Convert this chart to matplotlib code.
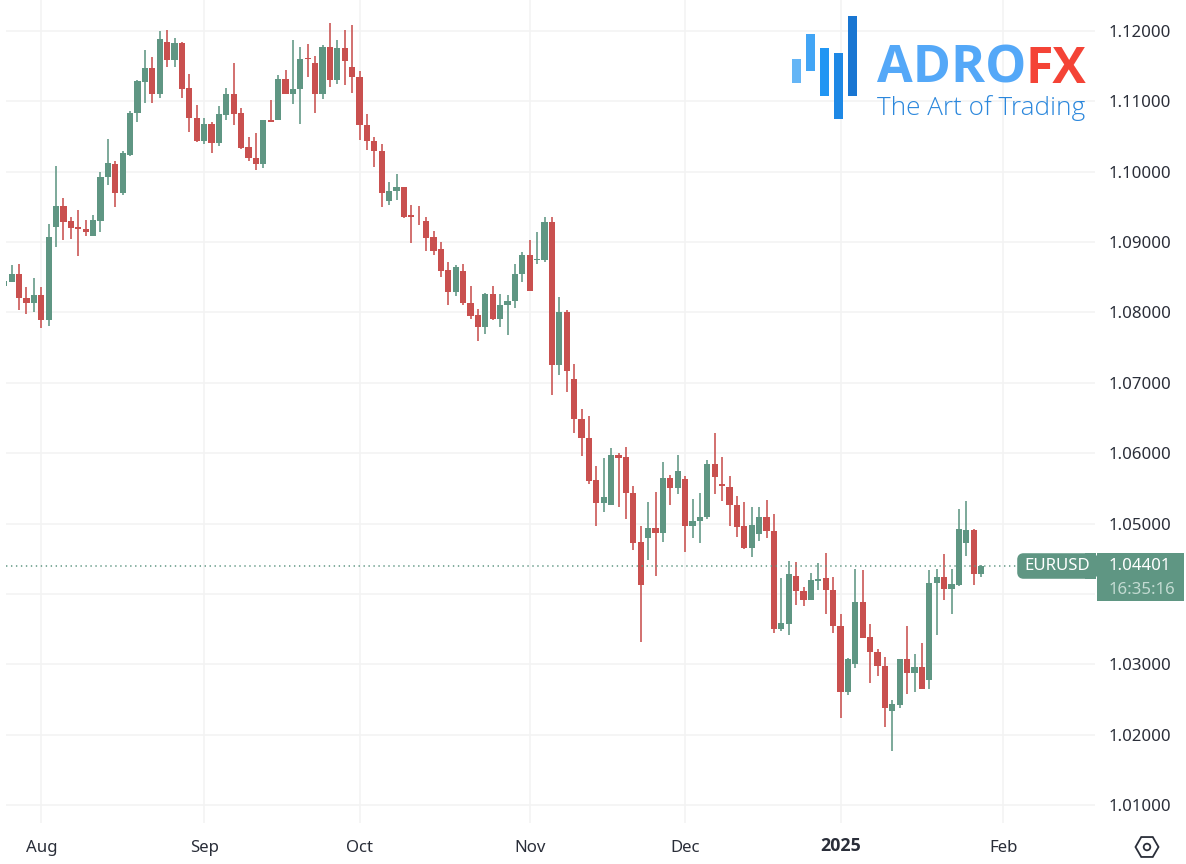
import matplotlib
matplotlib.use('Agg')
import matplotlib.pyplot as plt
from matplotlib.patches import Rectangle, FancyBboxPatch, RegularPolygon, Circle
from matplotlib.transforms import ScaledTranslation

opens = [1.0838, 1.0844, 1.0855, 1.0820, 1.0814, 1.0825, 1.0790, 1.0921, 1.0951, 1.0930,
         1.0921, 1.0919, 1.0909, 1.0930, 1.0993, 1.1011, 1.0970, 1.1024, 1.1083, 1.1128,
         1.1148, 1.1110, 1.1185, 1.1159, 1.1183, 1.1119, 1.1077, 1.1044, 1.1068, 1.1041,
         1.1081, 1.1110, 1.1083, 1.1035, 1.1020, 1.1011, 1.1073, 1.1074, 1.1132, 1.1111,
         1.1117, 1.1162, 1.1155, 1.1110, 1.1178, 1.1131, 1.1176, 1.1149, 1.1134, 1.1067,
         1.1044, 1.1029, 1.0959, 1.0972, 1.0978, 1.0938, 1.0936, 1.0930, 1.0907, 1.0890,
         1.0860, 1.0829, 1.0859, 1.0814, 1.0796, 1.0779, 1.0826, 1.0791, 1.0810, 1.0817,
         1.0854, 1.0882, 1.0874, 1.0874, 1.0928, 1.0726, 1.0801, 1.0705, 1.0649, 1.0622,
         1.0562, 1.0529, 1.0526, 1.0598, 1.0594, 1.0544, 1.0474, 1.0479, 1.0494, 1.0487,
         1.0565, 1.0551, 1.0564, 1.0496, 1.0503, 1.0509, 1.0585, 1.0556, 1.0552, 1.0526,
         1.0496, 1.0465, 1.0485, 1.0509, 1.0490, 1.0350, 1.0357, 1.0426, 1.0404, 1.0391,
         1.0419, 1.0423, 1.0405, 1.0355, 1.0260, 1.0301, 1.0389, 1.0339, 1.0317, 1.0298,
         1.0234, 1.0242, 1.0307, 1.0288, 1.0296, 1.0278, 1.0415, 1.0424, 1.0407, 1.0413,
         1.0473, 1.0491, 1.0429]
closes = [1.0845, 1.0855, 1.0820, 1.0814, 1.0825, 1.0790, 1.0907, 1.0951, 1.0929, 1.0920,
          1.0918, 1.0914, 1.0931, 1.0993, 1.1012, 1.0970, 1.1026, 1.1083, 1.1129, 1.1148,
          1.1110, 1.1189, 1.1159, 1.1183, 1.1118, 1.1077, 1.1044, 1.1068, 1.1041, 1.1082,
          1.1110, 1.1082, 1.1034, 1.1019, 1.1011, 1.1074, 1.1071, 1.1132, 1.1111, 1.1118,
          1.1160, 1.1160, 1.1110, 1.1178, 1.1131, 1.1176, 1.1157, 1.1134, 1.1067, 1.1043,
          1.1029, 1.0970, 1.0972, 1.0978, 1.0936, 1.0935, 1.0935, 1.0906, 1.0888, 1.0859,
          1.0829, 1.0864, 1.0813, 1.0795, 1.0779, 1.0826, 1.0791, 1.0811, 1.0817, 1.0854,
          1.0882, 1.0830, 1.0876, 1.0928, 1.0726, 1.0801, 1.0717, 1.0648, 1.0622, 1.0561,
          1.0529, 1.0538, 1.0598, 1.0593, 1.0543, 1.0473, 1.0413, 1.0494, 1.0487, 1.0565,
          1.0551, 1.0574, 1.0496, 1.0504, 1.0510, 1.0585, 1.0566, 1.0554, 1.0527, 1.0495,
          1.0465, 1.0498, 1.0509, 1.0489, 1.0350, 1.0358, 1.0429, 1.0404, 1.0391, 1.0420,
          1.0421, 1.0405, 1.0355, 1.0260, 1.0308, 1.0389, 1.0338, 1.0317, 1.0298, 1.0238,
          1.0244, 1.0307, 1.0288, 1.0296, 1.0265, 1.0416, 1.0424, 1.0407, 1.0414, 1.0492,
          1.0491, 1.0429, 1.04401]
highs = [1.0845, 1.0867, 1.0869, 1.0836, 1.0849, 1.0836, 1.0926, 1.1008, 1.0962, 1.0936,
         1.0945, 1.0931, 1.0939, 1.1000, 1.1046, 1.1015, 1.1029, 1.1086, 1.1130, 1.1173,
         1.1163, 1.1200, 1.1201, 1.1190, 1.1184, 1.1139, 1.1095, 1.1077, 1.1071, 1.1094,
         1.1119, 1.1155, 1.1091, 1.1049, 1.1055, 1.1074, 1.1102, 1.1138, 1.1145, 1.1187,
         1.1178, 1.1181, 1.1165, 1.1180, 1.1212, 1.1187, 1.1202, 1.1208, 1.1143, 1.1082,
         1.1049, 1.1039, 1.0986, 1.0997, 1.0979, 1.0953, 1.0952, 1.0935, 1.0916, 1.0900,
         1.0872, 1.0868, 1.0869, 1.0837, 1.0805, 1.0828, 1.0838, 1.0826, 1.0825, 1.0869,
         1.0886, 1.0903, 1.0914, 1.0935, 1.0935, 1.0822, 1.0803, 1.0727, 1.0663, 1.0653,
         1.0582, 1.0593, 1.0608, 1.0600, 1.0609, 1.0554, 1.0497, 1.0531, 1.0545, 1.0588,
         1.0569, 1.0598, 1.0568, 1.0535, 1.0543, 1.0590, 1.0629, 1.0594, 1.0568, 1.0539,
         1.0530, 1.0524, 1.0524, 1.0534, 1.0513, 1.0422, 1.0447, 1.0445, 1.0410, 1.0430,
         1.0444, 1.0458, 1.0424, 1.0371, 1.0309, 1.0436, 1.0434, 1.0357, 1.0322, 1.0311,
         1.0249, 1.0308, 1.0355, 1.0315, 1.0330, 1.0434, 1.0435, 1.0457, 1.0436, 1.0520,
         1.0532, 1.0492, 1.0441]
lows = [1.0838, 1.0843, 1.0803, 1.07975, 1.0801, 1.0778, 1.0781, 1.0893, 1.0903, 1.0904,
        1.0880, 1.0909, 1.0909, 1.0914, 1.0981, 1.0950, 1.0967, 1.1023, 1.1071, 1.1098,
        1.1097, 1.1105, 1.1149, 1.1149, 1.1105, 1.1056, 1.1042, 1.1040, 1.1026, 1.1036,
        1.1074, 1.1066, 1.1033, 1.1015, 1.1002, 1.1006, 1.1070, 1.1074, 1.1110, 1.1096,
        1.1068, 1.1135, 1.1083, 1.1103, 1.1121, 1.1125, 1.1124, 1.1112, 1.1045, 1.1031,
        1.1007, 1.0950, 1.0953, 1.0960, 1.0934, 1.0899, 1.0925, 1.0887, 1.0881, 1.0851,
        1.0810, 1.0824, 1.0810, 1.0791, 1.0759, 1.0769, 1.0790, 1.0780, 1.0768, 1.0806,
        1.0843, 1.0830, 1.0869, 1.0872, 1.0682, 1.0711, 1.0687, 1.0628, 1.0596, 1.0556,
        1.0496, 1.0517, 1.0526, 1.0523, 1.0507, 1.0462, 1.0331, 1.0448, 1.0425, 1.0474,
        1.0527, 1.0542, 1.0460, 1.0480, 1.0472, 1.0506, 1.0542, 1.0532, 1.0497, 1.0481,
        1.0464, 1.0453, 1.0475, 1.0479, 1.0344, 1.0347, 1.0342, 1.0384, 1.0383, 1.0391,
        1.0405, 1.0372, 1.0344, 1.0223, 1.0257, 1.0294, 1.0338, 1.0273, 1.0284, 1.0211,
        1.0177, 1.0238, 1.0258, 1.0260, 1.0265, 1.0265, 1.0341, 1.0391, 1.0372, 1.0411,
        1.0454, 1.0413, 1.0424]

price_ticks = [1.01, 1.02, 1.03, 1.04, 1.05, 1.06, 1.07, 1.08, 1.09, 1.10, 1.11, 1.12]
# 1.04000 sits behind the last price label, so it shows no text
price_labels = ['1.01000', '1.02000', '1.03000', '', '1.05000', '1.06000', '1.07000',
                '1.08000', '1.09000', '1.10000', '1.11000', '1.12000']
month_pos = [5, 27, 48, 71, 92, 113, 135]
month_labels = ['Aug', 'Sep', 'Oct', 'Nov', 'Dec', '2025', 'Feb']
last_price = 1.04401

GREEN = '#5f9683'
RED = '#c9504f'
GRID = '#f3f3f3'
TEXT = '#2a2e39'
LABEL_SIZE = 12.1

W, H = 1186, 864
plt.rcParams['font.family'] = 'Noto Sans'


def fx(px):
    return px / W


def fy(py):
    return 1 - py / H


fig = plt.figure(figsize=(W / 100, H / 100), dpi=100, facecolor='white')
ax = fig.add_axes([fx(6), fy(823), fx(1095 - 6), 823 / H])
ax.set_xlim(0.23, 147.39)
ax.set_ylim(1.00744, 1.12441)
for s in ax.spines.values():
    s.set_visible(False)
ax.set_axisbelow(True)
ax.grid(True, color=GRID, linewidth=1.2)

# candles
xs = list(range(len(opens)))
colors = [GREEN if c >= o else RED for o, c in zip(opens, closes)]
ax.vlines(xs, lows, highs, colors=colors, linewidth=1.15, zorder=2)
bottoms = [min(o, c) for o, c in zip(opens, closes)]
heights = [max(abs(c - o), 0.00012) for o, c in zip(opens, closes)]
ax.bar(xs, heights, bottom=bottoms, width=0.82, color=colors, linewidth=0, zorder=3)

# last price line
ax.plot([0.23, 5 + (1016 - 41.3) / 7.4], [last_price, last_price], color=GREEN,
        linewidth=1.1, linestyle=(0, (0.9, 2.35)), zorder=4)

ax.yaxis.tick_right()
ax.set_yticks(price_ticks)
ax.set_yticklabels(price_labels)
ax.set_xticks(month_pos)
ax.set_xticklabels(month_labels)
ax.tick_params(axis='y', length=0, pad=10, labelsize=LABEL_SIZE, labelcolor=TEXT)
ax.tick_params(axis='x', length=0, pad=12, labelsize=LABEL_SIZE, labelcolor=TEXT)
for lab in ax.get_xticklabels():
    if lab.get_text() == '2025':
        lab.set_fontfamily('Open Sans')
        lab.set_fontweight('bold')
        lab.set_fontsize(12.8)
        lab.set_transform(lab.get_transform() + ScaledTranslation(0, 2 / 72, fig.dpi_scale_trans))

# labels on the price scale
fig.add_artist(FancyBboxPatch((fx(1020), fy(576)), fx(75), 20 / H,
                              boxstyle='round,pad=0,rounding_size=0.003',
                              mutation_aspect=W / H,
                              facecolor=GREEN, edgecolor=GREEN, linewidth=4,
                              transform=fig.transFigure))
fig.add_artist(Rectangle((fx(1085), fy(579)), fx(11), 26 / H, facecolor=GREEN,
                         edgecolor='none', transform=fig.transFigure))
fig.add_artist(Rectangle((fx(1097), fy(601)), fx(87), 48 / H, facecolor=GREEN,
                         edgecolor='none', transform=fig.transFigure))
fig.text(fx(1057), fy(566.5), 'EURUSD', color='white', fontsize=LABEL_SIZE, ha='center', va='center')
fig.text(fx(1109), fy(566), '1.04401', color='white', fontsize=LABEL_SIZE, ha='left', va='center')
fig.text(fx(1109), fy(589.5), '16:35:16', color='#c3dbd2', fontsize=LABEL_SIZE, ha='left', va='center')

# settings icon
fig.add_artist(RegularPolygon((1147, H - 847), 6, radius=11.5, orientation=3.14159 / 6,
                              facecolor='none', edgecolor=TEXT, linewidth=1.3,
                              transform=None))
fig.add_artist(Circle((1147, H - 847), 3.3, facecolor='none', edgecolor=TEXT,
                      linewidth=1.3, transform=None))

# logo
logo_bars = [(792, 801.3, 58.7, 83.3, '#64b5f6'),
             (806, 815, 34, 71, '#42a5f5'),
             (820, 829, 47.7, 96, '#2196f3'),
             (833.7, 842.7, 52.7, 119.3, '#1e88e5'),
             (847.7, 856.7, 16, 96, '#1976d2')]
for x0, x1, y0, y1, col in logo_bars:
    fig.add_artist(Rectangle((fx(x0), fy(y1)), fx(x1 - x0), (y1 - y0) / H, facecolor=col,
                             edgecolor='none', transform=fig.transFigure))
fig.text(fx(877), fy(82.7), 'ADRO', color='#54a8f8', fontsize=37.3, fontweight='bold',
         family='Open Sans', ha='left', va='baseline')
fig.text(fx(1086), fy(82.7), 'FX', color='#f44336', fontsize=36, fontweight='bold',
         family='Open Sans', ha='right', va='baseline')
fig.text(fx(877), fy(115), 'The Art of Trading', color='#2b87dc', fontsize=18.8,
         fontweight='light', family='Open Sans', ha='left', va='baseline')

fig.savefig('out.png', dpi=100)
